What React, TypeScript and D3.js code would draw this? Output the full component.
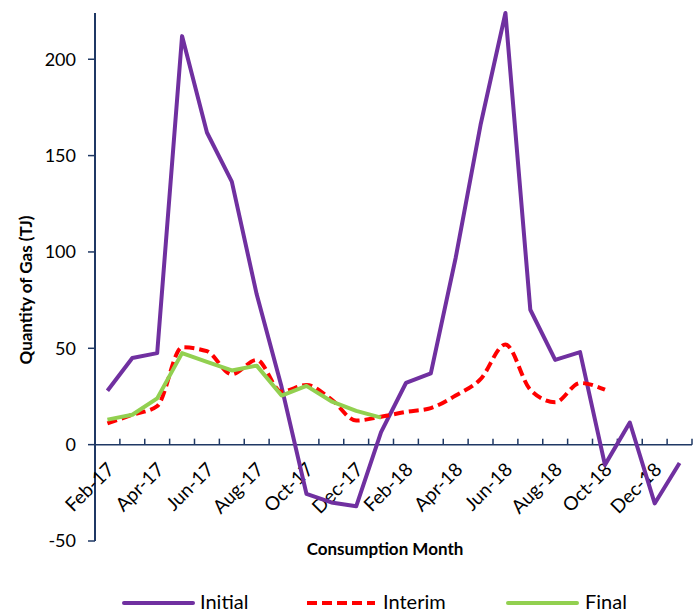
import * as d3 from 'd3';

const months = [
  'Feb-17', 'Mar-17', 'Apr-17', 'May-17', 'Jun-17', 'Jul-17', 'Aug-17', 'Sep-17',
  'Oct-17', 'Nov-17', 'Dec-17', 'Jan-18', 'Feb-18', 'Mar-18', 'Apr-18', 'May-18',
  'Jun-18', 'Jul-18', 'Aug-18', 'Sep-18', 'Oct-18', 'Nov-18', 'Dec-18', 'Jan-19',
];

const initialValues = [
  28, 45, 47.5, 212, 162, 136.5, 78, 30, -25.5, -30, -32, 6.5,
  32, 37, 97, 166, 224, 70, 44, 48, -10.5, 11.5, -30.5, -9.5,
];
const interimValues: (number | null)[] = [
  11, 15.5, 20, 50.5, 48.5, 36.5, 44, 27.5, 31, 23.5, 12.5, 14.5,
  17, 19, 25.5, 34, 52, 28.5, 22, 32, 28.5, null, null, null,
];
const finalValues: (number | null)[] = [
  13, 15.5, 24, 47.5, 43, 38.5, 41, 25.5, 30.5, 22.5, 17.5, 14,
  null, null, null, null, null, null, null, null, null, null, null, null,
];

const yTicks = [-50, 0, 50, 100, 150, 200];
const yMin = -50;
const yMax = 224;

const W = 698;
const H = 614;
const axisColor = '#1F3864';
const font = 'Lato, "Open Sans", sans-serif';

export default function App() {
  const x = d3.scaleBand<string>().domain(months).range([95, 692]).paddingInner(0).paddingOuter(0);
  const y = d3.scaleLinear().domain([yMin, yMax]).range([541, 13]);
  const cx = (m: string) => (x(m) || 0) + x.bandwidth() / 2;

  const straight = d3
    .line<number | null>()
    .defined((d) => d !== null)
    .x((_, i) => cx(months[i]))
    .y((d) => y(d as number));

  const smooth = d3
    .line<number | null>()
    .defined((d) => d !== null)
    .x((_, i) => cx(months[i]))
    .y((d) => y(d as number))
    .curve(d3.curveMonotoneX);

  const y0 = y(0);
  const boundaries = months.map((m) => (x(m) || 0) + x.bandwidth());

  return (
    <svg width={W} height={H} style={{ position: 'absolute', left: 0, top: 0, background: '#fff' }}>
      {/* Y axis */}
      <line x1={95} x2={95} y1={y(yMax)} y2={y(yMin)} stroke={axisColor} strokeWidth={2} />
      {yTicks.map((t) => (
        <g key={t}>
          <line x1={88} x2={95} y1={y(t)} y2={y(t)} stroke={axisColor} strokeWidth={1.5} />
          <text x={76} y={y(t)} dy="0.35em" textAnchor="end" fontFamily={font} fontSize={18} fill="#000">
            {t}
          </text>
        </g>
      ))}

      {/* X axis at zero */}
      <line x1={95} x2={692} y1={y0} y2={y0} stroke={axisColor} strokeWidth={1.5} />
      {boundaries.map((b, i) => (
        <line key={i} x1={b} x2={b} y1={y0 - 6} y2={y0} stroke={axisColor} strokeWidth={1.5} />
      ))}
      {months.map((m, i) =>
        i % 2 === 0 ? (
          <text
            key={m}
            transform={`translate(${cx(m) + 8},${y0 + 26}) rotate(-45)`}
            textAnchor="end"
            fontFamily={font}
            fontSize={19}
            fill="#000"
          >
            {m}
          </text>
        ) : null
      )}

      {/* Series */}
      <path d={straight(initialValues) || ''} fill="none" stroke="#7030A0" strokeWidth={4} strokeLinejoin="round" />
      <path d={smooth(interimValues) || ''} fill="none" stroke="#FF0000" strokeWidth={4} strokeDasharray="10,5" />
      <path d={straight(finalValues) || ''} fill="none" stroke="#92D050" strokeWidth={4} strokeLinejoin="round" />

      {/* Axis titles */}
      <text x={385} y={555} textAnchor="middle" fontFamily={font} fontWeight="bold" fontSize={17} fill="#000">
        Consumption Month
      </text>
      <text
        transform="translate(32,290) rotate(-90)"
        textAnchor="middle"
        fontFamily={font}
        fontWeight="bold"
        fontSize={17}
        fill="#000"
      >
        Quantity of Gas (TJ)
      </text>

      {/* Legend */}
      <g fontFamily={font} fontSize={20} fill="#000">
        <line x1={124} x2={193} y1={603} y2={603} stroke="#7030A0" strokeWidth={4} strokeLinecap="round" />
        <text x={200} y={609}>Initial</text>
        <line x1={307} x2={375} y1={603} y2={603} stroke="#FF0000" strokeWidth={4} strokeDasharray="10,5" />
        <text x={383} y={609}>Interim</text>
        <line x1={508} x2={577} y1={603} y2={603} stroke="#92D050" strokeWidth={4} strokeLinecap="round" />
        <text x={585} y={609}>Final</text>
      </g>
    </svg>
  );
}
